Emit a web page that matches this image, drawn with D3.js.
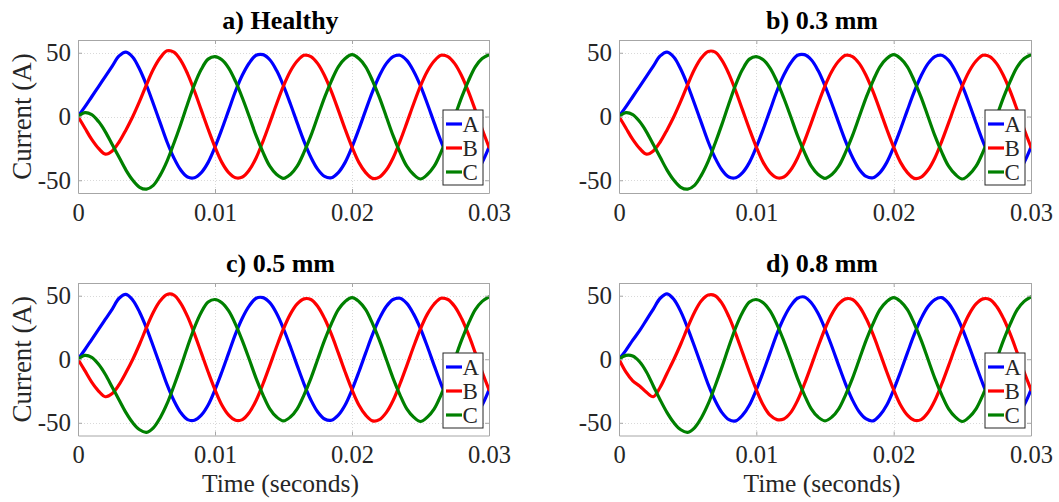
<!DOCTYPE html>
<html>
<head>
<meta charset="utf-8">
<script src="https://cdn.jsdelivr.net/npm/d3@7"></script>
<style>
  html, body { margin: 0; padding: 0; background: #fff; }
  svg { display: block; }
</style>
</head>
<body>
<svg id="chart" width="1059" height="502"></svg>
<script>
// Sample instants (s)
const timeS = [0,0.0005,0.001,0.0015,0.002,0.0025,0.003,0.0035,0.004,0.0045,
  0.005,0.0055,0.006,0.0065,0.007,0.0075,0.008,0.0085,0.009,0.0095,
  0.01,0.0105,0.011,0.0115,0.012,0.0125,0.013,0.0135,0.014,0.0145,
  0.015,0.0155,0.016,0.0165,0.017,0.0175,0.018,0.0185,0.019,0.0195,
  0.02,0.0205,0.021,0.0215,0.022,0.0225,0.023,0.0235,0.024,0.0245,
  0.025,0.0255,0.026,0.0265,0.027,0.0275,0.028,0.0285,0.029,0.0295,0.03];

// Phase currents (A), healthy machine
const healthyA = [0,7.5,15.5,23.5,31.5,39.5,47.5,50.5,46.5,37,24.5,10,-5,-20,-32.5,-42,-47.5,-48,-44,-36,
  -24,-10,5,20,32.5,42,48,48.5,44.5,36,24,10,-5,-19.5,-32,-41.5,-47,-48,-44,-36,
  -24,-10,5,19.5,32,41.5,47,48,44,35.5,24,10,-5,-19.5,-32,-41.5,-47,-48,-44,-36,-24];
const healthyB = [0,-9,-18,-25,-29.5,-27,-20,-10.5,0,12,25,37,46,51.5,50.5,44,33.5,20,5,-10,
  -24,-36,-44,-48,-47.5,-42,-32.5,-19.5,-5,10,24,35.5,43.5,48,47,41.5,32,19.5,5,-10,
  -24,-36,-44,-48.5,-47.5,-42,-32.5,-19.5,-5,10,24,35.5,43.5,48,47,41.5,32,19.5,5,-10,-24];
const healthyC = [0,3,1.5,-4,-12,-22,-32,-42,-50,-55.5,-57,-54,-46,-35,-21,-6,10,25,37,45,
  47,44.5,38,27.5,14.5,0,-15,-28,-39,-45.5,-48.5,-45.5,-39,-28,-15,0,15,28,39,45.5,
  48.5,45.5,39,28,15,0,-15,-28,-39,-45.5,-49,-45.5,-39,-28,-15,0,15,28,39,45.5,48.5];

// 0.3 mm fault
const gap03A = [0,7.5,15.5,23.5,31.5,39.5,47.5,50.5,46.5,37,24.5,10,-5,-20,-32.5,-42,-47.5,-48,-44,-36,
  -24,-10,5,20,32.5,42,48,48.5,44.5,36,24,10,-5,-19.5,-32,-41.5,-47,-48,-44,-36,
  -24,-10,5,19.5,32,41.5,47,48,44,35.5,24,10,-5,-19.5,-32,-41.5,-47,-48,-44,-36,-24];
const gap03B = [0,-9,-18,-25,-29.5,-27,-20,-10.5,0,12,25,37,46,51,50.5,44,33.5,20,5,-10,
  -24,-36,-44,-48,-47.5,-42,-32.5,-19.5,-5,10,24,35.5,43.5,48,47,41.5,32,19.5,5,-10,
  -24,-36,-44,-48.5,-47.5,-42,-32.5,-19.5,-5,10,24,35.5,43.5,48,47,41.5,32,19.5,5,-10,-24];
const gap03C = [0,3,1.5,-4,-12,-22,-32,-42,-50,-55.5,-57,-54,-46,-35,-21,-6,10,25,37,45,
  47,44.5,38,27.5,14.5,0,-15,-28,-39,-45.5,-48.5,-45.5,-39,-28,-15,0,15,28,39,45.5,
  48.5,45.5,39,28,15,0,-15,-28,-39,-45.5,-49,-45.5,-39,-28,-15,0,15,28,39,45.5,48.5];

// 0.5 mm fault
const gap05A = [0,7.5,15.5,23.5,31.5,39.5,48,51,46.5,37,24.5,10,-5,-20,-32.5,-42,-47.5,-48,-44,-36,
  -24,-10,5,20,32.5,42,48,48.5,44.5,36,24,10,-5,-19.5,-32,-41.5,-47,-48,-44,-36,
  -24,-10,5,19.5,32,41.5,47,48,44,35.5,24,10,-5,-19.5,-32,-41.5,-47,-48,-44,-36,-24];
const gap05B = [0,-9,-18,-25,-29.5,-27,-20,-10.5,0,12,25,37,46,51,50.5,44,33.5,20,5,-10,
  -24,-36,-44,-48,-47.5,-42,-32.5,-19.5,-5,10,24,35.5,43.5,47.5,47,41.5,32,19.5,5,-10,
  -24,-36,-44,-48.5,-47.5,-42,-32.5,-19.5,-5,10,24,35.5,43.5,48,47,41.5,32,19.5,5,-10,-24];
const gap05C = [0,3,1.5,-4,-12,-22,-32,-42,-50,-55.5,-57.5,-54,-46,-35,-21,-6,10,25,37,45,
  47,44.5,38,27.5,14.5,0,-15,-28,-39,-45.5,-48.5,-45.5,-39,-28,-15,0,15,28,39,45.5,
  48.5,45.5,39,28,15,0,-15,-28,-39,-45.5,-49,-45.5,-39,-28,-15,0,15,28,39,45.5,49];

// 0.8 mm fault
const gap08A = [0,7,15,22.5,31,39.5,48,51.5,47,37.5,24.5,10,-5,-20,-32.5,-42,-47.5,-48.5,-44,-36,
  -24,-10,5,20,32.5,42,48,49,44.5,36,24,10,-5,-19.5,-32,-41.5,-47,-48.5,-44,-36,
  -24,-10,5,19.5,32,41.5,47,48.5,44,35.5,24,10,-5,-19.5,-32,-41.5,-47,-48,-44,-36,-24];
const gap08B = [0,-10,-17,-21,-26,-29.5,-22,-11,0,12,25,37,46,50.5,50,44,33.5,20,5,-10,
  -24,-36,-44,-47.5,-47,-42,-32.5,-19.5,-5,10,24,35.5,43.5,47.5,47,41.5,32,19.5,5,-10,
  -24,-36,-44,-48,-47.5,-42,-32.5,-19.5,-5,10,24,35.5,43.5,47.5,47,41.5,32,19.5,5,-10,-24];
const gap08C = [0,3,2.5,-2,-10,-21,-32,-42,-50,-55.5,-57.5,-54,-46,-35,-21,-6,10,25,37,45,
  47,44.5,38,27.5,14.5,0,-15,-28,-39,-45.5,-48.5,-45.5,-39,-28,-15,0,15,28,39,45.5,
  48.5,45.5,39,28,15,0,-15,-28,-39,-45.5,-49,-45.5,-39,-28,-15,0,15,28,39,45.5,49];

const panelTitles = ["a) Healthy", "b) 0.3 mm", "c) 0.5 mm", "d) 0.8 mm"];
const phaseNames = ["A", "B", "C"];
const phaseColors = ["#0000ff", "#ff0000", "#008000"];
const xTicks = [0, 0.01, 0.02, 0.03];
const xTickLabels = ["0", "0.01", "0.02", "0.03"];
const yTicks = [-50, 0, 50];
const yTickLabels = ["-50", "0", "50"];

const panelSeries = [
  [healthyA, healthyB, healthyC],
  [gap03A, gap03B, gap03C],
  [gap05A, gap05B, gap05C],
  [gap08A, gap08B, gap08C]
];

// Plot rectangles for the 2x2 grid
const frames = [
  {left: 78,  right: 489,  top: 40,  bottom: 193,   ylabel: true,  xlabel: false},
  {left: 619, right: 1031, top: 40,  bottom: 193,   ylabel: false, xlabel: false},
  {left: 78,  right: 489,  top: 283, bottom: 435.5, ylabel: true,  xlabel: true},
  {left: 619, right: 1031, top: 283, bottom: 435.5, ylabel: false, xlabel: true}
];

const svg = d3.select("#chart");
const FONT = "'Liberation Serif', 'Times New Roman', serif";
const AXIS_GREY = "#a6a6a6";
const TEXT_GREY = "#262626";

frames.forEach((f, p) => {
  const x = d3.scaleLinear().domain([0, 0.03]).range([f.left, f.right]);
  const y = d3.scaleLinear().domain([-60, 60]).range([f.bottom, f.top]);
  const g = svg.append("g");
  const clipId = "clip" + p;

  g.append("clipPath").attr("id", clipId)
    .append("rect")
    .attr("x", f.left).attr("y", f.top)
    .attr("width", f.right - f.left).attr("height", f.bottom - f.top);

  // dotted grid
  const grid = g.append("g").attr("stroke", "#d9d9d9").attr("stroke-width", 1)
    .attr("stroke-dasharray", "1,2");
  grid.selectAll("line.gx").data(xTicks.slice(1, -1)).join("line")
    .attr("x1", d => Math.round(x(d)) + 0.5).attr("x2", d => Math.round(x(d)) + 0.5)
    .attr("y1", f.top).attr("y2", f.bottom);
  grid.selectAll("line.gy").data(yTicks).join("line")
    .attr("x1", f.left).attr("x2", f.right)
    .attr("y1", d => Math.round(y(d)) + 0.5).attr("y2", d => Math.round(y(d)) + 0.5);

  // phase currents
  const line = d3.line()
    .x((d, i) => x(timeS[i]))
    .y(d => y(d))
    .curve(d3.curveCatmullRom.alpha(0.5));
  const lines = g.append("g").attr("clip-path", `url(#${clipId})`);
  panelSeries[p].forEach((vals, k) => {
    lines.append("path")
      .attr("d", line(vals))
      .attr("fill", "none")
      .attr("stroke", phaseColors[k])
      .attr("stroke-width", 3.2)
      .attr("stroke-linejoin", "round")
      .attr("stroke-linecap", "round");
  });

  // axes box with inward ticks on all sides
  const axB = d3.axisBottom(x).tickValues(xTicks).tickFormat((d, i) => xTickLabels[i])
    .tickSizeInner(-4).tickSizeOuter(0).tickPadding(10.5);
  const axT = d3.axisTop(x).tickValues(xTicks).tickFormat("").tickSizeInner(-4).tickSizeOuter(0);
  const axL = d3.axisLeft(y).tickValues(yTicks).tickFormat((d, i) => yTickLabels[i])
    .tickSizeInner(-4).tickSizeOuter(0).tickPadding(7);
  const axR = d3.axisRight(y).tickValues(yTicks).tickFormat("").tickSizeInner(-4).tickSizeOuter(0);

  const styleAxis = (sel, size) => {
    sel.select(".domain").attr("stroke", AXIS_GREY);
    sel.selectAll(".tick line").attr("stroke", AXIS_GREY);
    sel.selectAll(".tick text").attr("fill", TEXT_GREY)
      .style("font-family", FONT).style("font-size", size + "px");
  };
  g.append("g").attr("transform", `translate(0,${f.bottom})`).call(axB).call(styleAxis, 24.5);
  g.append("g").attr("transform", `translate(0,${f.top})`).call(axT).call(styleAxis, 24.5);
  g.append("g").attr("transform", `translate(${f.left},0)`).call(axL).call(styleAxis, 25);
  g.append("g").attr("transform", `translate(${f.right},0)`).call(axR).call(styleAxis, 25);

  // title
  g.append("text")
    .attr("x", (f.left + f.right) / 2 - 3)
    .attr("y", f.top - 11)
    .attr("text-anchor", "middle")
    .style("font-family", FONT).style("font-size", "26px").style("font-weight", "bold")
    .attr("fill", "#000")
    .text(panelTitles[p]);

  if (f.ylabel) {
    g.append("text")
      .attr("transform", `translate(31,${(f.top + f.bottom) / 2}) rotate(-90)`)
      .attr("text-anchor", "middle")
      .style("font-family", FONT).style("font-size", "27px")
      .attr("fill", TEXT_GREY)
      .text("Current (A)");
  }
  if (f.xlabel) {
    g.append("text")
      .attr("x", (f.left + f.right) / 2 - 3)
      .attr("y", 491.5)
      .attr("text-anchor", "middle")
      .style("font-family", FONT).style("font-size", "25.5px")
      .attr("fill", TEXT_GREY)
      .text("Time (seconds)");
  }

  // legend
  const lg = g.append("g").attr("transform", `translate(${f.right - 46},${f.top + 70})`);
  lg.append("rect").attr("x", 0).attr("y", 0).attr("width", 40).attr("height", 75)
    .attr("fill", "#fff").attr("stroke", TEXT_GREY).attr("stroke-width", 1);
  phaseNames.forEach((name, k) => {
    const yy = 14 + k * 24;
    lg.append("line").attr("x1", 3).attr("x2", 19).attr("y1", yy).attr("y2", yy)
      .attr("stroke", phaseColors[k]).attr("stroke-width", 3.2);
    lg.append("text").attr("x", 19.5).attr("y", yy + 8)
      .style("font-family", FONT).style("font-size", "23px")
      .attr("fill", TEXT_GREY).text(name);
  });
});
</script>
</body>
</html>
